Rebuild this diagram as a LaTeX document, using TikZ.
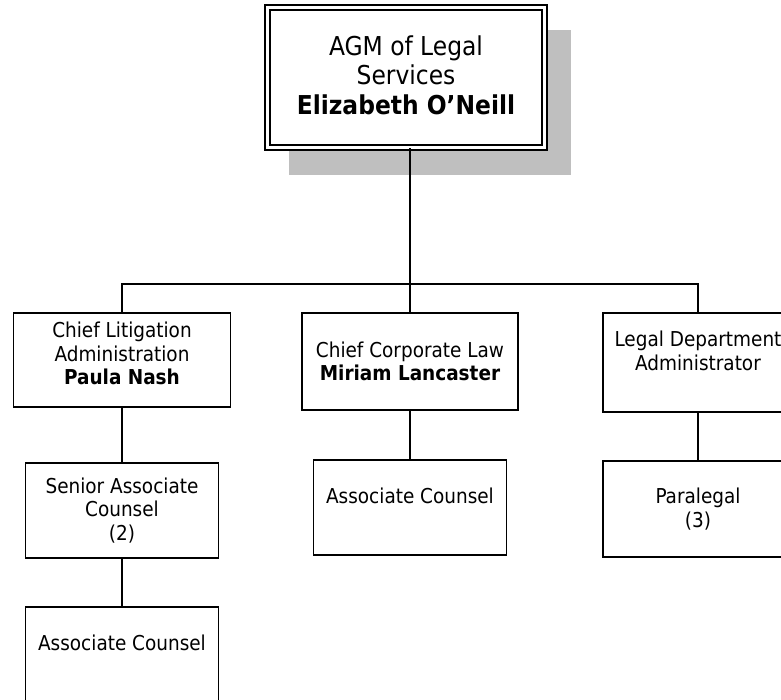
\documentclass[tikz,border=0pt]{standalone}
\usepackage{fontspec}
\setmainfont{DejaVu Sans Condensed}
\begin{document}
\begin{tikzpicture}[x=1pt,y=-1pt,
  box/.style={draw=black, line width=1.7pt, rectangle, inner sep=0pt,
    align=center, fill=white, font=\fontsize{20.5}{23.5}\selectfont},
  narrow/.style={minimum width=193pt, minimum height=95pt},
  link/.style={line width=1.7pt}]
\clip (0,0) rectangle (781,700);
\fill[white] (0,0) rectangle (781,700);

% drop shadow behind the head box
\fill[gray!50] (289,30) rectangle (571,175);
\node[box, double, double distance=3pt, line width=1.6pt,
  minimum width=277pt, minimum height=140pt,
  font=\fontsize{26}{29.5}\selectfont] (agm) at (406,77.5)
  {AGM of Legal\\Services\\\textbf{Elizabeth O’Neill}\\[-24pt]\mbox{}};

% second level
\node[box, minimum width=217pt, minimum height=94pt] (lit) at (122,360)
  {Chief Litigation\\Administration\\\textbf{Paula Nash}\\[-10pt]\mbox{}};
\node[box, minimum width=216pt, minimum height=97pt] (corp) at (410,361.5)
  {Chief Corporate Law\\\textbf{Miriam Lancaster}};
\node[box, minimum width=190pt, minimum height=99pt] (dept) at (698,362.5)
  {Legal Department\\Administrator\\\mbox{}};

% third level
\node[box, narrow] (senior) at (122,510.5) {Senior Associate\\Counsel\\(2)};
\node[box, narrow] (assocB) at (410,507.5) {Associate Counsel\\\mbox{}};
\node[box, minimum width=190pt, minimum height=96pt] (para) at (698,509) {Paralegal\\(3)};

% fourth level
\node[box, narrow] (assocA) at (122,654.5) {Associate Counsel\\\mbox{}};

% connectors
\coordinate (bar) at (410,284);
\draw[link] (agm.south -| corp.north) -- (bar);
\draw[link] (lit.north) |- (bar) -| (dept.north);
\draw[link] (bar) -- (corp.north);
\draw[link] (lit.south) -- (senior.north);
\draw[link] (senior.south) -- (assocA.north);
\draw[link] (corp.south) -- (assocB.north);
\draw[link] (dept.south) -- (para.north);
\end{tikzpicture}
\end{document}
